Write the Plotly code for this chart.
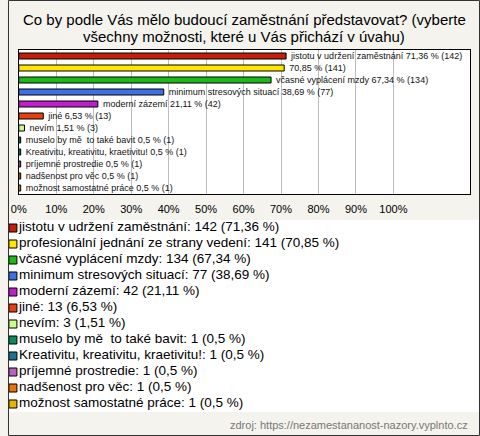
import plotly.graph_objects as go

categories = [
    "jistotu v udržení zaměstnání",
    "profesionální jednání ze strany vedení",
    "včasné vyplácení mzdy",
    "minimum stresových situací",
    "moderní zázemí",
    "jiné",
    "nevím",
    "muselo by mě  to také bavit",
    "Kreativitu, kreativitu, kraetivitu!",
    "príjemné prostredie",
    "nadšenost pro věc",
    "možnost samostatné práce",
]
counts = [142, 141, 134, 77, 42, 13, 3, 1, 1, 1, 1, 1]
percents = [71.36, 70.85, 67.34, 38.69, 21.11, 6.53, 1.51, 0.5, 0.5, 0.5, 0.5, 0.5]
# the chart omits the name in the in-plot label of the second bar
show_name_in_plot = [True, False, True, True, True, True, True, True, True, True, True, True]
colors = ["#C41E0C", "#FFE600", "#1DB81A", "#3E6FE6", "#C01ECA", "#E5400F",
          "#C6FF86", "#0B8A5A", "#1E7290", "#B864BF", "#E5760A", "#E6B500"]
tick_vals = [0, 10, 20, 30, 40, 50, 60, 70, 80, 90, 100]
tick_text = [f"{v}%" for v in tick_vals]

title_lines = ["Co by podle Vás mělo budoucí zaměstnání představovat? (vyberte",
               "všechny možnosti, které u Vás přichází v úvahu)"]
source_text = "zdroj: https://nezamestananost-nazory.vyplnto.cz"

W, H = 480, 436


def fmt(p):
    s = f"{p:.2f}".rstrip("0").rstrip(".")
    return s.replace(".", ",")


def nb(s):
    return s.replace("  ", "&nbsp; ")


bar_labels = []
legend_labels = []
for i, cat in enumerate(categories):
    ptxt = f"{fmt(percents[i])} % ({counts[i]})"
    body = (nb(cat) + " " + ptxt) if show_name_in_plot[i] else ptxt
    bar_labels.append("&nbsp;&nbsp;" + body)
    legend_labels.append(f"{nb(cat)}: {counts[i]} ({fmt(percents[i])} %)")

fig = go.Figure()
fig.add_trace(go.Bar(
    x=percents, y=categories, orientation="h",
    marker=dict(color=colors, line=dict(color="#000000", width=1)),
    width=0.5,
    text=bar_labels, textposition="outside", cliponaxis=False,
    constraintext="none",
    textfont=dict(family="Liberation Sans", size=9, color="#111111"),
    hoverinfo="skip", xaxis="x", yaxis="y",
))
# legend drawn as its own small panel
fig.add_trace(go.Scatter(
    x=[5] * len(categories), y=categories, mode="markers+text",
    marker=dict(symbol="square", size=8, color=colors, line=dict(color="#000000", width=1)),
    text=legend_labels, textposition="middle right",
    textfont=dict(family="Liberation Sans", size=13.5, color="#000000"),
    cliponaxis=False, hoverinfo="skip", xaxis="x2", yaxis="y2",
))

fig.update_layout(
    width=W, height=H,
    margin=dict(l=0, r=0, t=0, b=0),
    paper_bgcolor="#F4F3EE", plot_bgcolor="#FFFFFF",
    font=dict(family="Liberation Sans", color="#000000"),
    showlegend=False,
    xaxis=dict(domain=[11 / W, 470 / W], range=[0, 120.5], tickvals=tick_vals,
               ticktext=tick_text, showgrid=True, gridcolor="#BDBDBD", gridwidth=1,
               zeroline=False, showline=True, mirror=True, linecolor="#000000",
               linewidth=1, ticks="", ticklabelstandoff=5,
               tickfont=dict(size=11, family="Liberation Sans"), fixedrange=True),
    yaxis=dict(domain=[1 - 194 / H, 1 - 50 / H], type="category",
               categoryorder="array", categoryarray=categories, range=[11.5, -0.5],
               showticklabels=False, showgrid=False, showline=True, mirror=True,
               linecolor="#000000", linewidth=1, ticks="", fixedrange=True),
    xaxis2=dict(domain=[0, 1], range=[0, W], visible=False, fixedrange=True,
                anchor="y2"),
    yaxis2=dict(domain=[1 - 412 / H, 1 - 220 / H], type="category",
                categoryorder="array", categoryarray=categories, range=[11.5, -0.5],
                visible=False, fixedrange=True, anchor="x2"),
)

for j, line in enumerate(title_lines):
    fig.add_annotation(text=line, xref="paper", yref="paper", x=0.5, y=1 - (20 + 17 * j) / H,
                       xanchor="center", yanchor="middle", showarrow=False,
                       font=dict(family="Liberation Sans", size=15, color="#000000"))

fig.add_annotation(text=source_text, xref="paper", yref="paper", x=470 / W, y=1 - 425 / H,
                   xanchor="right", yanchor="middle", showarrow=False,
                   font=dict(family="Liberation Sans", size=11, color="#777777"))
# outer border of the chart
fig.add_shape(type="rect", xref="paper", yref="paper", x0=0.5 / W, x1=1 - 0.5 / W,
              y0=0.5 / H, y1=1 - 0.5 / H, line=dict(color="#333333", width=1),
              fillcolor="rgba(0,0,0,0)", layer="above")

page_fix = ("document.body.style.margin='0';document.body.style.padding='0';"
            "document.body.style.overflow='hidden';"
            "document.documentElement.style.overflow='hidden';")
fig.write_html("out.html", config={"displayModeBar": False}, post_script=page_fix)
